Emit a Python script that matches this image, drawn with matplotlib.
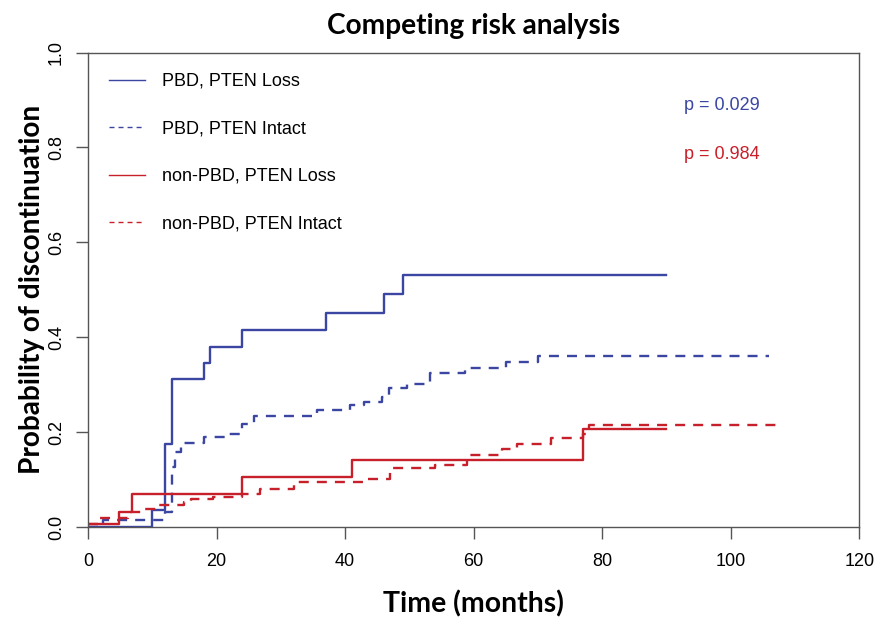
import matplotlib
matplotlib.use("Agg")
import matplotlib.pyplot as plt
from matplotlib.lines import Line2D

# ---- data ----
pbd_loss_t = [0, 10, 12, 13, 18, 19, 24, 37, 46, 49, 90]
pbd_loss_p = [0, 0.036, 0.174, 0.311, 0.346, 0.380, 0.415, 0.450, 0.490, 0.532, 0.532]

pbd_intact_t = [0, 2.4, 12, 13, 13.5, 14.4, 18, 22, 24, 25.8, 35.6, 40.8, 43,
                45.7, 46.8, 49.6, 53.2, 58.7, 65, 70, 106]
pbd_intact_p = [0, 0.014, 0.032, 0.127, 0.159, 0.176, 0.190, 0.197, 0.217, 0.234,
                0.246, 0.257, 0.263, 0.273, 0.292, 0.302, 0.324, 0.336, 0.348, 0.361, 0.361]

non_loss_t = [0, 4.9, 6.8, 24, 41, 77, 90]
non_loss_p = [0.006, 0.032, 0.069, 0.105, 0.141, 0.206, 0.206]

non_intact_t = [0, 1.5, 6.3, 8.9, 11.1, 14.9, 16, 19.5, 24, 26.8, 32, 43.6, 47,
                54, 59, 64.4, 66.7, 72, 77, 78, 107]
non_intact_p = [0.006, 0.018, 0.032, 0.037, 0.046, 0.052, 0.058, 0.0625, 0.069,
                0.081, 0.095, 0.101, 0.124, 0.131, 0.152, 0.164, 0.175, 0.187,
                0.195, 0.215, 0.215]

legend_labels = ["PBD, PTEN Loss", "PBD, PTEN Intact",
                 "non-PBD, PTEN Loss", "non-PBD, PTEN Intact"]
p_values = ["p = 0.029", "p = 0.984"]

x_ticks = [0, 20, 40, 60, 80, 100, 120]
y_ticks = [0.0, 0.2, 0.4, 0.6, 0.8, 1.0]

# ---- style ----
BLUE = "#3A46A2"
RED = "#C8202A"
FRAME = "#555555"
plt.rcParams["lines.scale_dashes"] = False
tick_font = ["Liberation Sans", "DejaVu Sans"]
bold_font = ["Lato", "DejaVu Sans"]

fig = plt.figure(figsize=(8.77, 6.21), dpi=100)
ax = fig.add_axes([88 / 877, 1 - 527 / 621, (859.3 - 88) / 877, (527 - 52.5) / 621])

dash = (0, (7.2, 5.8))
ax.step(pbd_loss_t, pbd_loss_p, where="post", color=BLUE, lw=1.7)
ax.step(pbd_intact_t, pbd_intact_p, where="post", color=BLUE, lw=1.7, linestyle=dash)
ax.step(non_loss_t, non_loss_p, where="post", color=RED, lw=1.7)
ax.step(non_intact_t, non_intact_p, where="post", color=RED, lw=1.7, linestyle=dash)

ax.set_xlim(0, 120)
ax.set_ylim(0, 1)
ax.set_xticks(x_ticks)
ax.set_yticks(y_ticks)
ax.set_xticklabels([str(v) for v in x_ticks], family=tick_font, fontsize=13)
ax.set_yticklabels([f"{v:.1f}" for v in y_ticks], family=tick_font, fontsize=13,
                   rotation=90, va="center")
ax.tick_params(direction="out", length=8.5, width=1.0, color=FRAME, pad=10)
ax.tick_params(axis="y", pad=8)
for s in ax.spines.values():
    s.set_color(FRAME)
    s.set_linewidth(1.0)

ax.set_title("Competing risk analysis", family=bold_font, fontweight="bold",
             fontsize=20.2, pad=13)
ax.set_xlabel("Time (months)", family=bold_font, fontweight="bold", fontsize=20.4,
              labelpad=15)
ax.set_ylabel("Probability of discontinuation", family=bold_font, fontweight="bold",
              fontsize=20.2, labelpad=2)

# legend
leg_dash = (0, (3.6, 2.9))
handles = [Line2D([], [], color=BLUE, lw=1.0),
           Line2D([], [], color=BLUE, lw=1.0, linestyle=leg_dash),
           Line2D([], [], color=RED, lw=1.0),
           Line2D([], [], color=RED, lw=1.0, linestyle=leg_dash)]
leg = ax.legend(handles, legend_labels, loc="upper left", frameon=False,
                bbox_to_anchor=(0.004, 0.995), handlelength=2.0, handletextpad=0.95,
                labelspacing=1.69, borderaxespad=0.6,
                prop={"family": tick_font, "size": 13})

ax.text(0.773, 0.888, p_values[0], transform=ax.transAxes, color=BLUE,
        family=tick_font, fontsize=13, ha="left", va="center")
ax.text(0.773, 0.786, p_values[1], transform=ax.transAxes, color=RED,
        family=tick_font, fontsize=13, ha="left", va="center")

fig.savefig("out.png", dpi=100)
